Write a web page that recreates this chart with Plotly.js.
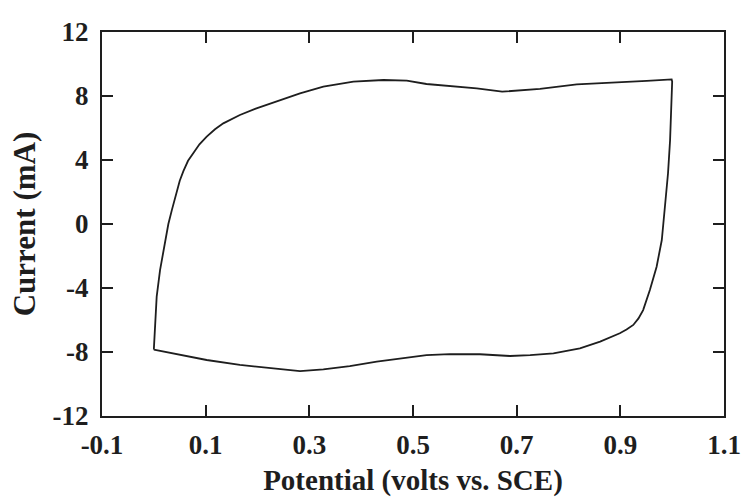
<!DOCTYPE html>
<html>
<head>
<meta charset="utf-8">
<script src="https://cdn.plot.ly/plotly-3.0.1.min.js"></script>
<style>
  html, body { margin: 0; padding: 0; background: #fff; }
  #chart { width: 742px; height: 498px; }
</style>
</head>
<body>
<div id="chart"></div>
<script>
// Cyclic voltammogram (closed loop): anodic sweep 0 -> 1.0 V, then cathodic sweep back
const potential = [
  0.000, 0.002, 0.0055, 0.012, 0.0215, 0.028, 0.035, 0.044, 0.050, 0.057, 0.066, 0.076, 0.088, 0.102,
  0.118, 0.134, 0.166, 0.198, 0.243, 0.282, 0.327, 0.385, 0.443, 0.488, 0.526, 0.571,
  0.623, 0.672, 0.745, 0.816, 0.886, 0.951, 0.999,
  1.000, 0.996, 0.992, 0.986, 0.980, 0.970, 0.957, 0.944, 0.935, 0.925, 0.912, 0.899, 0.861,
  0.822, 0.771, 0.726, 0.687, 0.629, 0.571, 0.526, 0.475, 0.430, 0.378, 0.327,
  0.282, 0.230, 0.166, 0.102, 0.050, 0.000
];
const current = [
  -7.85, -6.62, -4.54, -2.88, -1.19, 0.00, 0.90, 1.92, 2.70, 3.30, 3.95, 4.42, 4.98, 5.46,
  5.92, 6.29, 6.81, 7.23, 7.75, 8.17, 8.58, 8.90, 9.00, 8.96, 8.75, 8.63,
  8.48, 8.27, 8.44, 8.73, 8.83, 8.94, 9.04,
  8.90, 5.25, 3.17, 1.08, -1.00, -2.67, -4.13, -5.38, -5.90, -6.31, -6.60, -6.83, -7.35,
  -7.77, -8.08, -8.19, -8.25, -8.14, -8.13, -8.19, -8.40, -8.60, -8.88, -9.08,
  -9.20, -9.02, -8.81, -8.50, -8.19, -7.85
];

const xTickVals = [-0.1, 0.1, 0.3, 0.5, 0.7, 0.9, 1.1];
const xTickText = ["-0.1", "0.1", "0.3", "0.5", "0.7", "0.9", "1.1"];
const yTickVals = [-12, -8, -4, 0, 4, 8, 12];
const yTickText = ["-12", "-8", "-4", "0", "4", "8", "12"];

const serif = "Liberation Serif, Times New Roman, serif";
const ink = "#1e1e1e";
const bold = t => "<b>" + t + "</b>";

const trace = {
  x: potential,
  y: current,
  type: "scatter",
  mode: "lines",
  line: { color: ink, width: 1.8 },
  hoverinfo: "skip"
};

const axisCommon = {
  showgrid: false,
  zeroline: false,
  showline: true,
  linecolor: ink,
  linewidth: 2,
  mirror: "allticks",
  ticks: "inside",
  ticklen: 11,
  tickwidth: 2,
  tickcolor: ink,
  tickmode: "array",
  tickfont: { family: serif, size: 27, color: ink }
};

const layout = {
  width: 742,
  height: 498,
  margin: { l: 102, r: 18, t: 32, b: 82 },
  paper_bgcolor: "#fff",
  plot_bgcolor: "#fff",
  showlegend: false,
  xaxis: Object.assign({}, axisCommon, {
    range: [-0.1, 1.1],
    tickvals: xTickVals,
    ticktext: xTickText.map(bold),
    ticklabelstandoff: 4,
    title: { text: "<b>Potential (volts vs. SCE)</b>", font: { family: serif, size: 29, color: ink }, standoff: 10 }
  }),
  yaxis: Object.assign({}, axisCommon, {
    range: [-12, 12],
    tickvals: yTickVals,
    ticktext: yTickText.map(bold),
    ticklabelstandoff: 6,
    title: { text: "<b>Current (mA)</b>", font: { family: serif, size: 31, color: ink }, standoff: 8 }
  })
};

Plotly.newPlot("chart", [trace], layout, { displayModeBar: false, staticPlot: true });
</script>
</body>
</html>
